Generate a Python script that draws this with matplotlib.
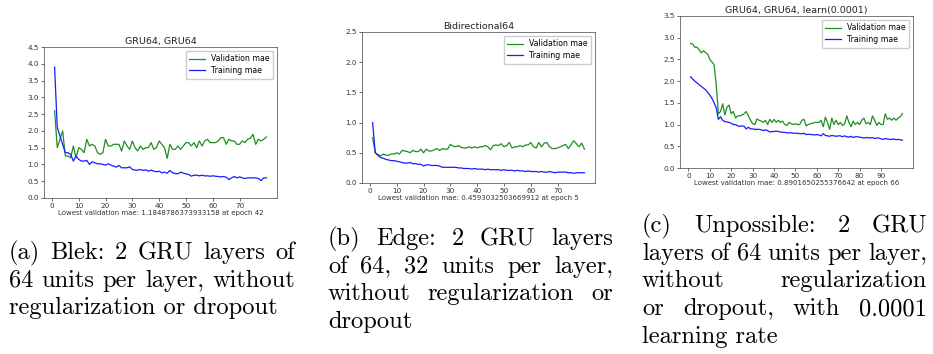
import numpy as np
import matplotlib
matplotlib.use("Agg")
import matplotlib.pyplot as plt

# ---- data ----
titles = ["GRU64, GRU64", "Bidirectional64", "GRU64, GRU64, learn(0.0001)"]
notes = ["Lowest validation mae: 1.1848786373933158 at epoch 42",
         "Lowest validation mae: 0.4593032503669912 at epoch 5",
         "Lowest validation mae: 0.8901650255376642 at epoch 66"]
ylims = [4.5, 2.5, 3.5]

val_a = [2.6, 1.5, 1.75, 2.0, 1.25, 1.25, 1.2, 1.55, 1.2, 1.5, 1.45, 1.35, 1.75, 1.55, 1.6, 1.55,
         1.35, 1.3, 1.35, 1.75, 1.55, 1.55, 1.6, 1.6, 1.6, 1.4, 1.7, 1.55, 1.45, 1.7, 1.5, 1.4,
         1.55, 1.45, 1.5, 1.5, 1.65, 1.45, 1.5, 1.7, 1.6, 1.5, 1.18, 1.6, 1.45, 1.45, 1.55, 1.45,
         1.55, 1.65, 1.65, 1.55, 1.65, 1.5, 1.7, 1.55, 1.7, 1.75, 1.65, 1.65, 1.65, 1.7, 1.8, 1.8,
         1.6, 1.75, 1.7, 1.7, 1.6, 1.6, 1.7, 1.65, 1.75, 1.78, 1.9, 1.6, 1.75, 1.7, 1.75, 1.82]
train_a = [3.9, 2.1, 1.85, 1.6, 1.35, 1.35, 1.3, 1.1, 1.25, 1.15, 1.1, 1.1, 1.12, 1.0, 1.08, 1.05,
           1.02, 1.02, 1.0, 0.98, 1.02, 0.98, 0.95, 0.92, 0.97, 0.9, 0.9, 0.9, 0.93, 0.85, 0.83, 0.83,
           0.85, 0.82, 0.84, 0.8, 0.83, 0.8, 0.78, 0.8, 0.75, 0.77, 0.74, 0.82, 0.75, 0.73, 0.72, 0.77,
           0.74, 0.72, 0.7, 0.65, 0.68, 0.68, 0.66, 0.68, 0.66, 0.66, 0.65, 0.66, 0.65, 0.64, 0.63, 0.64,
           0.62, 0.55, 0.6, 0.64, 0.6, 0.63, 0.6, 0.58, 0.6, 0.6, 0.6, 0.6, 0.58, 0.52, 0.6, 0.6]

val_b = [0.75, 0.5, 0.47, 0.45, 0.48, 0.46, 0.46, 0.48, 0.48, 0.5, 0.48, 0.54, 0.53, 0.52, 0.5, 0.54,
         0.52, 0.52, 0.56, 0.5, 0.56, 0.53, 0.53, 0.55, 0.57, 0.54, 0.57, 0.56, 0.56, 0.64, 0.61, 0.6,
         0.62, 0.59, 0.58, 0.58, 0.6, 0.58, 0.6, 0.58, 0.6, 0.6, 0.62, 0.6, 0.55, 0.62, 0.63, 0.62,
         0.65, 0.6, 0.62, 0.67, 0.58, 0.6, 0.6, 0.62, 0.6, 0.63, 0.63, 0.67, 0.6, 0.58, 0.67, 0.6,
         0.66, 0.67, 0.6, 0.57, 0.57, 0.58, 0.6, 0.62, 0.64, 0.57, 0.63, 0.7, 0.65, 0.6, 0.66, 0.56]
train_b = [1.0, 0.5, 0.46, 0.42, 0.41, 0.39, 0.38, 0.37, 0.37, 0.36, 0.35, 0.34, 0.33, 0.33, 0.34, 0.32,
           0.32, 0.31, 0.31, 0.28, 0.3, 0.3, 0.29, 0.29, 0.29, 0.28, 0.26, 0.26, 0.26, 0.26, 0.26, 0.26,
           0.25, 0.25, 0.24, 0.24, 0.24, 0.23, 0.24, 0.23, 0.23, 0.23, 0.22, 0.23, 0.22, 0.22, 0.22, 0.22,
           0.21, 0.22, 0.21, 0.21, 0.21, 0.2, 0.21, 0.2, 0.2, 0.19, 0.2, 0.19, 0.19, 0.19, 0.18, 0.19,
           0.18, 0.18, 0.19, 0.18, 0.17, 0.18, 0.18, 0.18, 0.18, 0.17, 0.17, 0.16, 0.17, 0.17, 0.17, 0.17]

val_c = [2.87, 2.85, 2.78, 2.78, 2.72, 2.65, 2.7, 2.66, 2.62, 2.5, 2.44, 2.38, 1.9, 1.25, 1.3, 1.48,
         1.22, 1.4, 1.45, 1.25, 1.3, 1.15, 1.2, 1.2, 1.22, 1.25, 1.3, 1.2, 1.1, 1.02, 1.0, 1.13,
         1.1, 1.08, 1.05, 1.1, 1.0, 1.12, 1.05, 1.12, 1.05, 1.1, 1.05, 1.08, 1.0, 0.98, 1.05, 1.02,
         1.0, 1.02, 1.0, 1.0, 1.1, 1.12, 0.97, 1.0, 1.02, 1.03, 1.05, 1.05, 1.05, 1.1, 0.95, 1.17,
         1.05, 0.89, 1.15, 1.0, 1.1, 1.0, 1.05, 0.98, 1.02, 1.2, 1.05, 0.95, 1.08, 1.0, 1.05, 1.0,
         1.1, 1.15, 1.02, 1.05, 1.0, 1.2, 1.1, 0.98, 1.05, 1.0, 1.0, 1.25, 1.12, 1.15, 1.1, 1.15,
         1.1, 1.15, 1.18, 1.25]
train_c = [2.1, 2.05, 2.0, 1.96, 1.92, 1.88, 1.84, 1.8, 1.74, 1.68, 1.6, 1.5, 1.38, 1.12, 1.18, 1.1,
           1.07, 1.06, 1.05, 1.03, 1.0, 1.0, 0.97, 0.96, 0.97, 0.96, 0.9, 0.94, 0.9, 0.9, 0.89, 0.89,
           0.89, 0.88, 0.86, 0.88, 0.86, 0.83, 0.84, 0.84, 0.85, 0.84, 0.83, 0.82, 0.82, 0.81, 0.81, 0.81,
           0.8, 0.8, 0.8, 0.79, 0.79, 0.8, 0.77, 0.78, 0.77, 0.77, 0.76, 0.77, 0.76, 0.74, 0.79, 0.75,
           0.74, 0.73, 0.75, 0.74, 0.73, 0.74, 0.74, 0.72, 0.74, 0.72, 0.71, 0.73, 0.7, 0.72, 0.72, 0.71,
           0.7, 0.69, 0.7, 0.7, 0.69, 0.7, 0.68, 0.69, 0.69, 0.67, 0.66, 0.68, 0.67, 0.66, 0.66, 0.67,
           0.65, 0.66, 0.65, 0.64]

captions = [
    ["(a) Blek: 2 GRU layers of", "64 units per layer, without", "regularization or dropout"],
    ["(b) Edge: 2 GRU layers", "of 64, 32 units per layer,", "without regularization or", "dropout"],
    ["(c) Unpossible: 2 GRU", "layers of 64 units per layer,", "without regularization",
     "or dropout, with 0.0001", "learning rate"],
]

W, H = 933, 354
fig = plt.figure(figsize=(W / 100, H / 100), dpi=100)

# axes boxes in pixels: left, top, right, bottom
boxes = [(44, 47, 277, 198), (362, 32, 595, 183), (680, 16, 913, 168)]
series = [(val_a, train_a), (val_b, train_b), (val_c, train_c)]

for box, (val, train), title, note, ymax in zip(boxes, series, titles, notes, ylims):
    l, t, r, b = box
    ax = fig.add_axes([l / W, 1 - b / H, (r - l) / W, (b - t) / H])
    epochs = np.arange(1, len(val) + 1)
    ax.plot(epochs, val, color='#1f8f1f', lw=0.9, label='Validation mae')
    ax.plot(epochs, train, color='#1a1aff', lw=0.9, label='Training mae')
    ax.set_ylim(0, ymax)
    ax.set_yticks(np.arange(0, ymax + 0.01, 0.5))
    ax.set_xticks(range(0, len(val), 10))
    ax.tick_params(labelsize=5.2, length=2, width=0.5, pad=1.5, colors='#333333')
    for s in ax.spines.values():
        s.set_linewidth(0.5)
        s.set_color('#444444')
    ax.set_title(title, fontsize=6.8, pad=2.5, color='#222222')
    ax.set_xlabel(note, fontsize=5.0, labelpad=1, color='#333333')
    ax.legend(loc='upper right', fontsize=5.6, handlelength=2.0, borderpad=0.45,
              labelspacing=0.35, framealpha=1, edgecolor='#cccccc', fancybox=True)

# captions, justified like the LaTeX subcaptions
renderer = fig.canvas.get_renderer()
cap_x = [(9, 295), (328, 613), (642, 927)]
cap_y0 = [253, 239, 226]
line_h = 27.7
fs = 17.6
for (x0, x1), y0, lines in zip(cap_x, cap_y0, captions):
    for i, line in enumerate(lines):
        y = 1 - (y0 + i * line_h) / H
        last = i == len(lines) - 1
        words = line.split(' ')
        if last or len(words) == 1:
            fig.text(x0 / W, y, line, fontsize=fs, family='cmr10', va='center', ha='left')
            continue
        txts = [fig.text(0, y, w, fontsize=fs, family='cmr10', va='center', ha='left') for w in words]
        widths = [tx.get_window_extent(renderer).width for tx in txts]
        gap = ((x1 - x0) - sum(widths)) / (len(words) - 1)
        x = x0
        for tx, wd in zip(txts, widths):
            tx.set_x(x / W)
            x += wd + gap

fig.savefig('out.png', dpi=100)
